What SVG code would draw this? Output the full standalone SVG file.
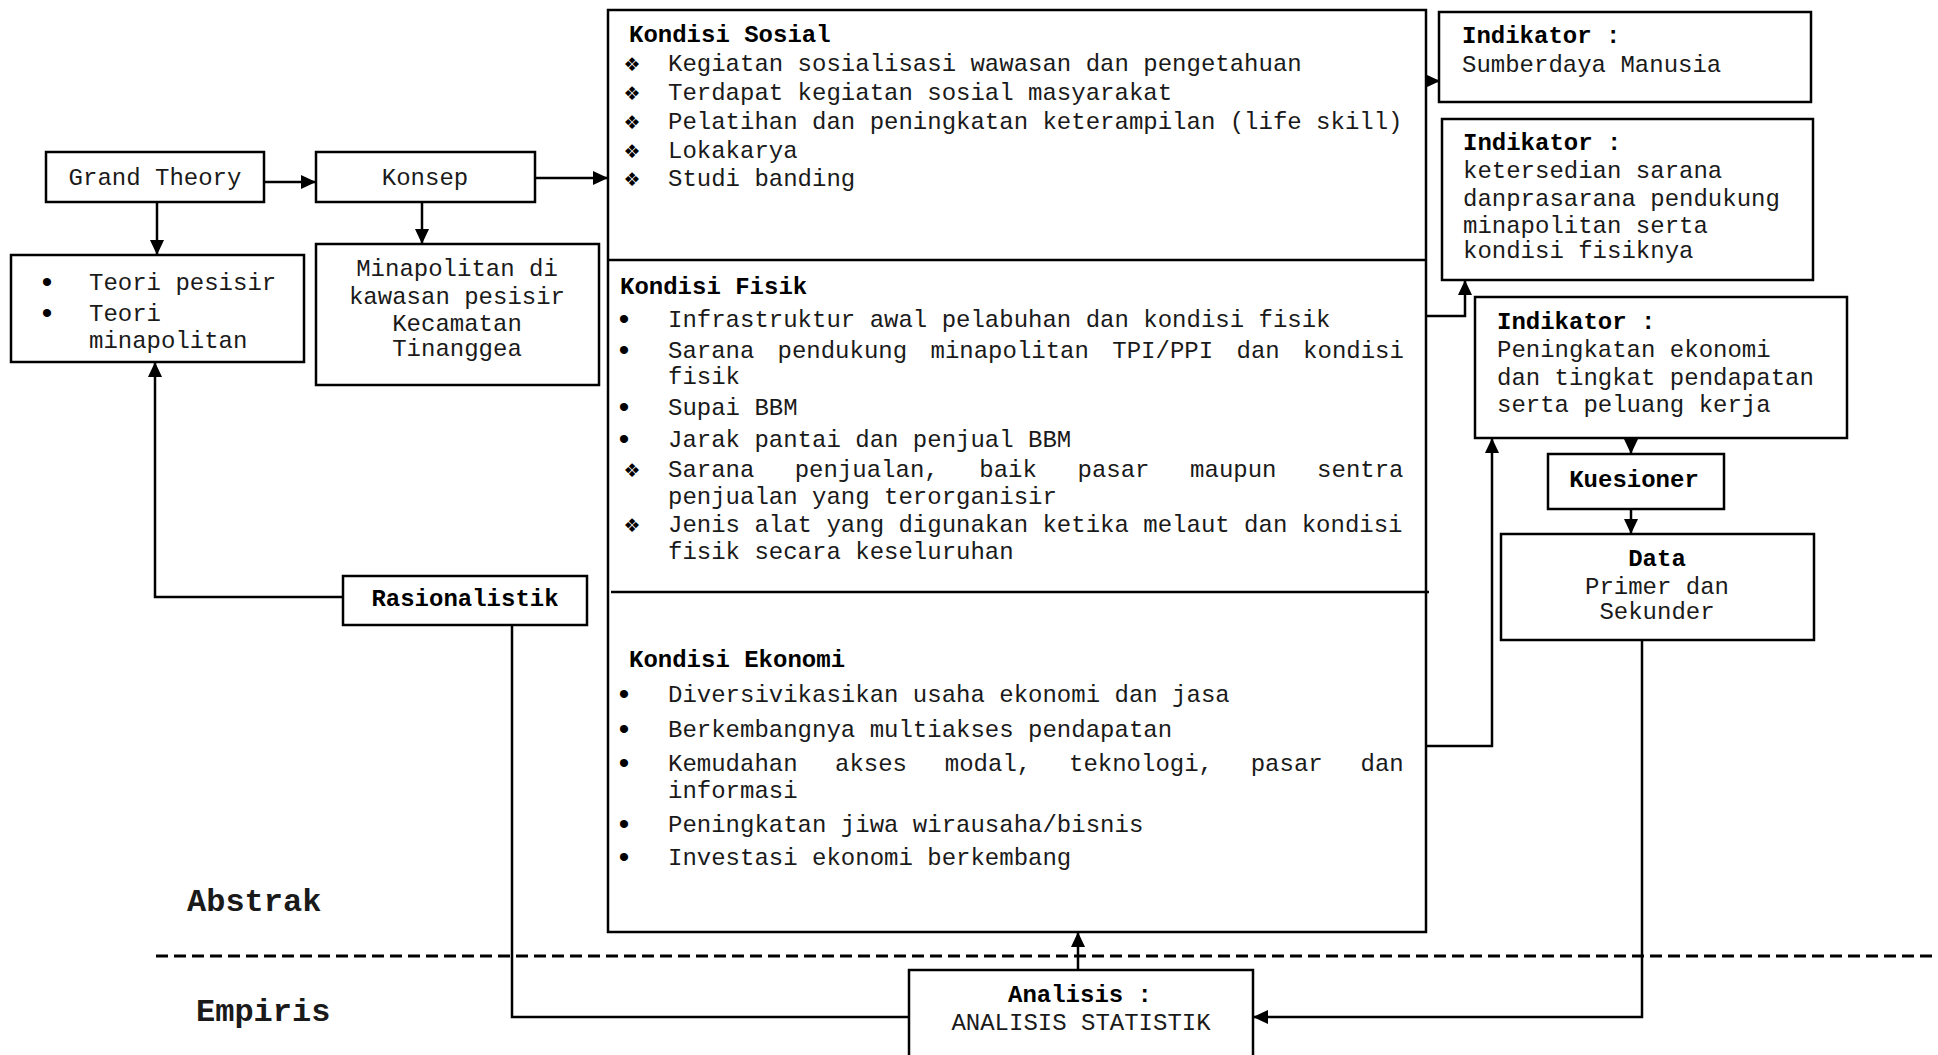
<svg xmlns="http://www.w3.org/2000/svg" width="1938" height="1055" viewBox="0 0 1938 1055">
<style>
.box{fill:#fff;stroke:#000;stroke-width:2.5}
.t{font-family:"Liberation Mono","Courier New",monospace;font-size:24px;fill:#1a1a1a}
.b{font-weight:bold;fill:#000}
.c{text-anchor:middle}
.big{font-size:32px;font-weight:bold}
.con{fill:none;stroke:#000;stroke-width:2.5}
.arr{marker-end:url(#ah)}
.sym{font-family:"DejaVu Sans",sans-serif;font-size:19px;text-anchor:middle;fill:#000}
.dot{font-family:"Liberation Sans",sans-serif;font-size:30px;text-anchor:middle;fill:#000}
</style>
<defs>
<marker id="ah" markerUnits="userSpaceOnUse" markerWidth="16" markerHeight="15" refX="15" refY="7" orient="auto"><path d="M0,0 L15,7 L0,14 z" fill="#000"/></marker>
</defs>
<rect width="1938" height="1055" fill="#fff"/>

<g id="connectors">
<path class="con arr" d="M264,182 H316"/>
<path class="con arr" d="M535,178 H608"/>
<path class="con arr" d="M157,202 V255"/>
<path class="con arr" d="M422,202 V244"/>
<path class="con arr" d="M343,597 H155 V362"/>
<path class="con" d="M512,625 V1017 H909"/>
<path class="con arr" d="M1426,81 H1440"/>
<path class="con arr" d="M1426,316 H1465 V280"/>
<path class="con arr" d="M1426,746 H1492 V438"/>
<path class="con arr" d="M1631,438 V454"/>
<path class="con arr" d="M1631,509 V534"/>
<path class="con arr" d="M1642,640 V1017 H1253"/>
<path class="con arr" d="M1078,970 V932"/>
<path d="M156,956 H1938" fill="none" stroke="#000" stroke-width="3" stroke-dasharray="12 6"/>
</g>

<g id="grand-theory">
<rect class="box" x="46" y="152" width="218" height="50"/>
<text class="t c" x="155" y="185">Grand Theory</text>
</g>

<g id="konsep">
<rect class="box" x="316" y="152" width="219" height="50"/>
<text class="t c" x="425" y="185">Konsep</text>
</g>

<g id="teori">
<rect class="box" x="11" y="255" width="293" height="107"/>
<text class="dot" x="47" y="292">•</text>
<text class="t" x="89" y="290">Teori pesisir</text>
<text class="dot" x="47" y="323">•</text>
<text class="t" x="89" y="321">Teori</text>
<text class="t" x="89" y="348">minapolitan</text>
</g>

<g id="minapolitan">
<rect class="box" x="316" y="244" width="283" height="141"/>
<text class="t c" x="457" y="276">Minapolitan di</text>
<text class="t c" x="457" y="304">kawasan pesisir</text>
<text class="t c" x="457" y="331">Kecamatan</text>
<text class="t c" x="457" y="356">Tinanggea</text>
</g>

<g id="rasionalistik">
<rect class="box" x="343" y="576" width="244" height="49"/>
<text class="t b c" x="465" y="606">Rasionalistik</text>
</g>

<g id="kondisi">
<rect class="box" x="608" y="10" width="818" height="922"/>
<path class="con" d="M608,260 H1426"/>
<path class="con" d="M611,592 H1429"/>
<text class="t b" x="629" y="42">Kondisi Sosial</text>
<text class="sym" x="632" y="71">❖</text><text class="t" x="668" y="71">Kegiatan sosialisasi wawasan dan pengetahuan</text>
<text class="sym" x="632" y="100">❖</text><text class="t" x="668" y="100">Terdapat kegiatan sosial masyarakat</text>
<text class="sym" x="632" y="129">❖</text><text class="t" x="668" y="129">Pelatihan dan peningkatan keterampilan (life skill)</text>
<text class="sym" x="632" y="158">❖</text><text class="t" x="668" y="158">Lokakarya</text>
<text class="sym" x="632" y="186">❖</text><text class="t" x="668" y="186">Studi banding</text>

<text class="t b" x="620" y="294">Kondisi Fisik</text>
<text class="dot" x="624" y="329">•</text><text class="t" x="668" y="327">Infrastruktur awal pelabuhan dan kondisi fisik</text>
<text class="dot" x="624" y="360">•</text><text class="t" y="358"><tspan x="668">Sarana</tspan><tspan x="777.5">pendukung</tspan><tspan x="930.5">minapolitan</tspan><tspan x="1112.3">TPI/PPI</tspan><tspan x="1236.5">dan</tspan><tspan x="1303.1">kondisi</tspan></text>
<text class="t" x="668" y="384">fisik</text>
<text class="dot" x="624" y="417">•</text><text class="t" x="668" y="415">Supai BBM</text>
<text class="dot" x="624" y="449">•</text><text class="t" x="668" y="447">Jarak pantai dan penjual BBM</text>
<text class="sym" x="632" y="477">❖</text><text class="t" y="477"><tspan x="668">Sarana</tspan><tspan x="794.7">penjualan,</tspan><tspan x="979.3">baik</tspan><tspan x="1077.5">pasar</tspan><tspan x="1190.1">maupun</tspan><tspan x="1317.1">sentra</tspan></text>
<text class="t" x="668" y="504">penjualan yang terorganisir</text>
<text class="sym" x="632" y="532">❖</text><text class="t" x="668" y="532">Jenis alat yang digunakan ketika melaut dan kondisi</text>
<text class="t" x="668" y="559">fisik secara keseluruhan</text>

<text class="t b" x="629" y="667">Kondisi Ekonomi</text>
<text class="dot" x="624" y="704">•</text><text class="t" x="668" y="702">Diversivikasikan usaha ekonomi dan jasa</text>
<text class="dot" x="624" y="739">•</text><text class="t" x="668" y="737">Berkembangnya multiakses pendapatan</text>
<text class="dot" x="624" y="773">•</text><text class="t" y="771"><tspan x="668">Kemudahan</tspan><tspan x="835">akses</tspan><tspan x="944.8">modal,</tspan><tspan x="1069">teknologi,</tspan><tspan x="1250.7">pasar</tspan><tspan x="1360.5">dan</tspan></text>
<text class="t" x="668" y="798">informasi</text>
<text class="dot" x="624" y="834">•</text><text class="t" x="668" y="832">Peningkatan jiwa wirausaha/bisnis</text>
<text class="dot" x="624" y="867">•</text><text class="t" x="668" y="865">Investasi ekonomi berkembang</text>
</g>

<g id="indikator-sdm">
<rect class="box" x="1439" y="12" width="372" height="90"/>
<text class="t b" x="1462" y="43">Indikator :</text>
<text class="t" x="1462" y="72">Sumberdaya Manusia</text>
</g>

<g id="indikator-sarana">
<rect class="box" x="1442" y="119" width="371" height="161"/>
<text class="t b" x="1463" y="150">Indikator :</text>
<text class="t" x="1463" y="178">ketersedian sarana</text>
<text class="t" x="1463" y="206">danprasarana pendukung</text>
<text class="t" x="1463" y="233">minapolitan serta</text>
<text class="t" x="1463" y="258">kondisi fisiknya</text>
</g>

<g id="indikator-ekonomi">
<rect class="box" x="1475" y="297" width="372" height="141"/>
<text class="t b" x="1497" y="329">Indikator :</text>
<text class="t" x="1497" y="357">Peningkatan ekonomi</text>
<text class="t" x="1497" y="385">dan tingkat pendapatan</text>
<text class="t" x="1497" y="412">serta peluang kerja</text>
</g>

<g id="kuesioner">
<rect class="box" x="1548" y="454" width="176" height="55"/>
<text class="t b c" x="1634" y="487">Kuesioner</text>
</g>

<g id="data">
<rect class="box" x="1501" y="534" width="313" height="106"/>
<text class="t b c" x="1657" y="566">Data</text>
<text class="t c" x="1657" y="594">Primer dan</text>
<text class="t c" x="1657" y="619">Sekunder</text>
</g>

<g id="analisis">
<rect class="box" x="909" y="970" width="344" height="100"/>
<text class="t b c" x="1080" y="1002">Analisis :</text>
<text class="t c" x="1081" y="1030">ANALISIS STATISTIK</text>
</g>

<g id="labels">
<text class="t big" x="187" y="911">Abstrak</text>
<text class="t big" x="196" y="1021">Empiris</text>
</g>
</svg>
